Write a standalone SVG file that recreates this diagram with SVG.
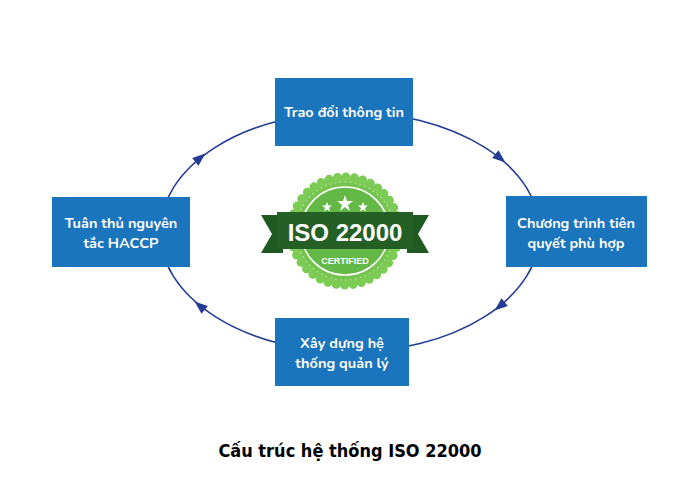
<svg xmlns="http://www.w3.org/2000/svg" width="700" height="504" viewBox="0 0 700 504">
<style>
.box{fill:#1b75bc}
.lbl{font-family:"Nunito","Noto Sans",sans-serif;font-weight:bold;font-size:14.5px;fill:#fff;text-anchor:middle}
.ah{fill:#243c93}
</style>
<rect width="700" height="504" fill="#fff"/>
<g id="connectors">
<ellipse cx="350" cy="232" rx="190" ry="120" fill="none" stroke="#243c93" stroke-width="1.6"/>
<polygon class="ah" points="7,0 -6,-5 -6,5" transform="translate(200,158) rotate(-39)"/>
<polygon class="ah" points="7,0 -6,-5 -6,5" transform="translate(500,158) rotate(39)"/>
<polygon class="ah" points="7,0 -6,-5 -6,5" transform="translate(500,306) rotate(141)"/>
<polygon class="ah" points="7,0 -6,-5 -6,5" transform="translate(200,306) rotate(-141)"/>
</g>
<g id="badge">
<circle cx="345" cy="231" r="54" fill="#7ccb55" stroke="#7ccb55" stroke-width="9" stroke-dasharray="0 8.5" stroke-linecap="round"/>
<circle cx="345" cy="231" r="49" fill="#74c44f" stroke="#a5dc86" stroke-width="1.5" stroke-dasharray="2 3"/>
<circle cx="345" cy="231" r="44" fill="#64b946" stroke="#fff" stroke-width="1.5"/>
<polygon points="261,215 283,215 283,253 261,253 272,234" fill="#1f5a22"/>
<polygon points="429,215 407,215 407,253 429,253 418,234" fill="#1f5a22"/>
<rect x="277" y="212" width="136" height="37" fill="#245f26"/>
<text x="345" y="241" font-family="Liberation Sans,Arial,sans-serif" font-weight="bold" font-size="24" fill="#fff" text-anchor="middle">ISO 22000</text>
<text x="345" y="264" font-family="Liberation Sans,Arial,sans-serif" font-weight="bold" font-size="9" fill="#fff" text-anchor="middle">CERTIFIED</text>
<g fill="#fff">
<polygon points="345,195 347,201 353,201 348,205 350,211 345,207 340,211 342,205 337,201 343,201"/>
<polygon points="327,202 328.5,205.5 332,205.5 329,208 330,211.5 327,209.5 324,211.5 325,208 322,205.5 325.5,205.5"/>
<polygon points="363,202 364.5,205.5 368,205.5 365,208 366,211.5 363,209.5 360,211.5 361,208 358,205.5 361.5,205.5"/>
</g>
</g>
<g id="n-top"><rect class="box" x="275" y="78" width="138" height="68"/><text class="lbl" x="344" y="117">Trao đổi thông tin</text></g>
<g id="n-left"><rect class="box" x="52" y="197" width="138" height="70"/><text class="lbl" x="121" y="228">Tuân thủ nguyên</text><text class="lbl" x="121" y="248">tắc HACCP</text></g>
<g id="n-right"><rect class="box" x="506" y="196" width="141" height="71"/><text class="lbl" x="576" y="228">Chương trình tiên</text><text class="lbl" x="576" y="248">quyết phù hợp</text></g>
<g id="n-bottom"><rect class="box" x="275" y="318" width="134" height="68"/><text class="lbl" x="342" y="348">Xây dựng hệ</text><text class="lbl" x="342" y="368">thống quản lý</text></g>
<text x="350" y="457" font-family="DejaVu Sans Condensed,DejaVu Sans,sans-serif" font-stretch="condensed" font-weight="bold" font-size="18" fill="#000" text-anchor="middle">Cấu trúc hệ thống ISO 22000</text>
</svg>
